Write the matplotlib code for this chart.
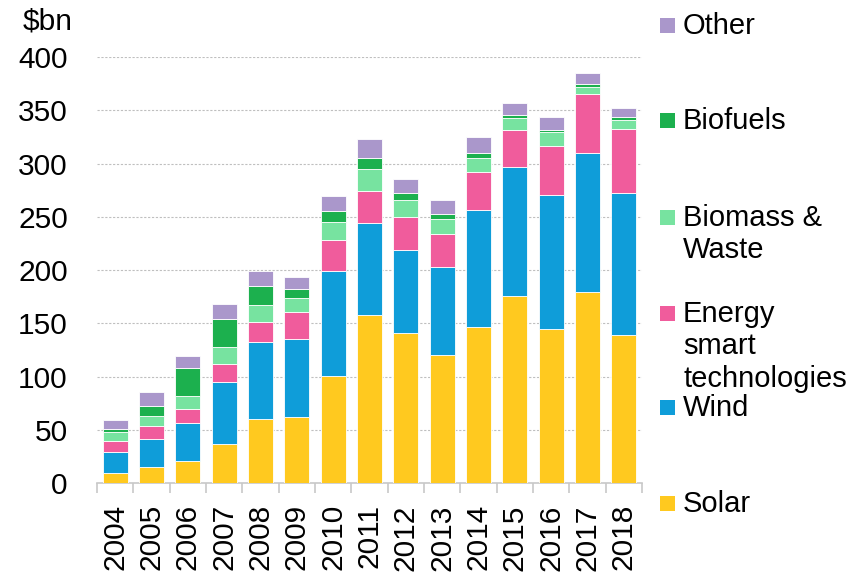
import matplotlib
matplotlib.use("Agg")
import matplotlib.pyplot as plt
import numpy as np
from matplotlib.patches import Rectangle

plt.rcParams['font.family'] = ['Liberation Sans', 'DejaVu Sans']

years = [str(y) for y in range(2004, 2019)]
solar = [10, 15, 21, 37, 60, 62, 100.6, 158, 141, 120.6, 146.5, 175.3, 144.6, 179.6, 139]
wind = [19, 27, 35.5, 58.5, 73, 73.5, 98.4, 86.5, 77.8, 82.5, 110.4, 121.5, 126, 130.4, 133.8]
energy_smart = [11, 12, 13, 16.5, 18, 25, 29, 29.7, 31.3, 31, 35.3, 35.1, 45.9, 55.2, 59.6]
biomass = [8, 9.5, 12, 16, 16.5, 13, 17.3, 20.7, 15.6, 14, 13, 10.6, 13.1, 6.3, 8.8]
biofuels = [3, 9.5, 26.5, 26, 17.5, 9, 10, 10.3, 6.8, 4.7, 5, 3.1, 1.9, 3.1, 2.5]
other = [8, 12.5, 11.6, 14, 14, 11.5, 14.7, 17.8, 12.9, 13.2, 15, 10.9, 11.9, 10.4, 8.8]

series = [
    ("Solar", solar, "#FFC91F"),
    ("Wind", wind, "#0F9DD9"),
    ("Energy\nsmart\ntechnologies", energy_smart, "#F05C9C"),
    ("Biomass &\nWaste", biomass, "#77E3A0"),
    ("Biofuels", biofuels, "#1CB04E"),
    ("Other", other, "#AA97CB"),
]

fig = plt.figure(figsize=(8.63, 5.76), dpi=100)
ax = fig.add_axes([0.1124, 0.1609, 0.6315, 0.7401])

x = np.arange(len(years))
bottom = np.zeros(len(years))
for name, vals, col in series:
    ax.bar(x, vals, width=0.68, bottom=bottom, color=col, edgecolor="white", linewidth=0.6, zorder=3)
    bottom += np.array(vals)

ax.set_ylim(0, 400)
ax.set_xlim(-0.5, len(years) - 0.5)
ax.set_yticks(range(0, 401, 50))
ax.yaxis.grid(True, linestyle=(0, (2, 1.5)), color="#BFBFBF", linewidth=0.8, zorder=0)
ax.set_axisbelow(True)

for s in ["top", "right", "left"]:
    ax.spines[s].set_visible(False)
ax.spines["bottom"].set_color("#C8C8C8")
ax.spines["bottom"].set_linewidth(1.2)

ax.set_xticks(x)
ax.set_xticklabels(years, rotation=90, fontsize=21.5)
ax.set_xticks(np.arange(-0.5, len(years), 1), minor=True)
ax.tick_params(axis="x", which="major", length=0, pad=15)
ax.tick_params(axis="x", which="minor", length=7, color="#C8C8C8", width=1.2)
ax.tick_params(axis="y", length=0, pad=21, labelsize=21.5)

fig.text(73 / 863, 1 - 22 / 576, "$bn", ha="right", va="center", fontsize=21.5)

# legend drawn by hand on the right
leg_y = {"Other": 25, "Biofuels": 120, "Biomass &\nWaste": 217,
         "Energy\nsmart\ntechnologies": 313, "Wind": 407, "Solar": 503}
for name, vals, col in series:
    yc = leg_y[name]
    fig.patches.append(Rectangle((660 / 863, 1 - (yc + 7.5) / 576), 15 / 863, 15 / 576,
                                 transform=fig.transFigure, facecolor=col, edgecolor="none"))
    fig.text(683 / 863, 1 - (yc - 13) / 576, name, ha="left", va="top",
             fontsize=21, linespacing=1.2)

fig.savefig("out.png", dpi=100)
